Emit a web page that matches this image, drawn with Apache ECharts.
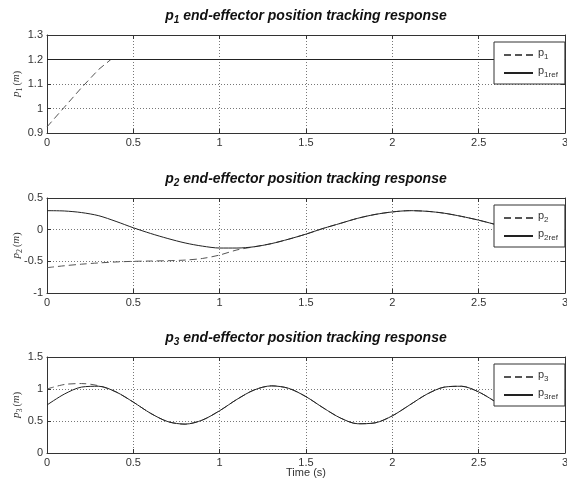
<!DOCTYPE html>
<html>
<head>
<meta charset="utf-8">
<script src="https://cdn.jsdelivr.net/npm/echarts@6/dist/echarts.min.js"></script>
<style>
  html, body { margin: 0; padding: 0; background: #fff; }
  #chart { width: 567px; height: 489px; }
</style>
</head>
<body>
<div id="chart"></div>
<script>
// time samples (s)
const t = [0, 0.1, 0.2, 0.3, 0.4, 0.5, 0.6, 0.7, 0.8, 0.9, 1.0, 1.1, 1.2, 1.3,
  1.4, 1.5, 1.6, 1.7, 1.8, 1.9, 2.0, 2.1, 2.2, 2.3, 2.4, 2.5, 2.6]

// p1
const p1T = [0, 0.1, 0.2, 0.3, 0.37, 2.6]
const p1 = [0.925, 1.005, 1.085, 1.16, 1.2, 1.2]
const p1refT = [0, 2.6]
const p1ref = [1.2, 1.2]

// p2
const p2ref = [0.30, 0.295, 0.27, 0.22, 0.13, 0.03, -0.06, -0.14, -0.21, -0.26, -0.29,
  -0.29, -0.27, -0.22, -0.15, -0.07, 0.02, 0.10, 0.18, 0.24, 0.28, 0.30, 0.29,
  0.26, 0.21, 0.15, 0.08]
const p2 = [-0.60, -0.57, -0.545, -0.525, -0.51, -0.50, -0.495, -0.49, -0.48, -0.455,
  -0.40, -0.32, -0.27, -0.22, -0.15, -0.07, 0.02, 0.10, 0.18, 0.24, 0.28, 0.30,
  0.29, 0.26, 0.21, 0.15, 0.08]

// p3
const p3ref = [0.75, 0.92, 1.03, 1.043, 0.954, 0.795, 0.62, 0.49, 0.451, 0.515, 0.661,
  0.838, 0.985, 1.049, 1.01, 0.88, 0.705, 0.546, 0.457, 0.471, 0.581, 0.75, 0.919,
  1.029, 1.043, 0.954, 0.795]
const p3 = [1.0, 1.07, 1.085, 1.05, 0.954, 0.795, 0.62, 0.49, 0.451, 0.515, 0.661,
  0.838, 0.985, 1.049, 1.01, 0.88, 0.705, 0.546, 0.457, 0.471, 0.581, 0.75, 0.919,
  1.029, 1.043, 0.954, 0.795]

const xTicks = { min: 0, max: 3, interval: 0.5 }
const yRanges = [
  { min: 0.9, max: 1.3, interval: 0.1 },
  { min: -1, max: 0.5, interval: 0.5 },
  { min: 0, max: 1.5, interval: 0.5 },
]

const pair = (xs, ys) => xs.map((x, i) => [x, ys[i]])

const sans = 'Liberation Sans, Arial, sans-serif'
const serif = 'Liberation Serif, DejaVu Serif, serif'
const ink = '#333'
const dashCol = '#555'
const solidCol = '#222'

const grids = [
  { left: 47, right: 2, top: 35, height: 98, outerBoundsMode: 'none' },
  { left: 47, right: 2, top: 198, height: 95, outerBoundsMode: 'none' },
  { left: 47, right: 2, top: 357, height: 96, outerBoundsMode: 'none' },
]

const xAxis = []
const yAxis = []
grids.forEach((g, i) => {
  xAxis.push({
    type: 'value', gridIndex: i, ...xTicks,
    name: i === 2 ? 'Time (s)' : '', nameLocation: 'middle', nameGap: 14,
    nameMoveOverlap: false,
    nameTextStyle: { fontFamily: sans, fontSize: 11, color: ink },
    axisLine: { onZero: false, lineStyle: { color: ink } },
    axisTick: { inside: true, length: 4, lineStyle: { color: ink } },
    axisLabel: { margin: 4, fontFamily: sans, fontSize: 11, color: ink },
    splitLine: { show: true, lineStyle: { color: '#777', type: [1, 2] } },
  })
  xAxis.push({
    type: 'value', gridIndex: i, position: 'top', ...xTicks,
    axisLine: { onZero: false, lineStyle: { color: ink } },
    axisTick: { inside: true, length: 4, lineStyle: { color: ink } },
    axisLabel: { show: false },
    splitLine: { show: false },
  })
  const n = i + 1
  yAxis.push({
    type: 'value', gridIndex: i, ...yRanges[i],
    name: '{i|p}{s|' + n + '}{n|(}{i|m}{n|)}',
    nameLocation: 'middle', nameGap: 23, nameMoveOverlap: false,
    nameTextStyle: {
      rich: {
        i: { fontFamily: serif, fontStyle: 'italic', fontSize: 11, color: ink, lineHeight: 12, padding: [0, 0, 2, 0], verticalAlign: 'bottom' },
        s: { fontFamily: serif, fontSize: 8, color: ink, lineHeight: 9, padding: [0, 2, 0, 0], verticalAlign: 'bottom' },
        n: { fontFamily: serif, fontSize: 10, color: ink, lineHeight: 12, padding: [0, 0, 2, 0], verticalAlign: 'bottom' },
      },
    },
    axisLine: { show: true, onZero: false, lineStyle: { color: ink } },
    axisTick: { show: true, inside: true, length: 4, lineStyle: { color: ink } },
    axisLabel: { margin: 4, fontFamily: sans, fontSize: 11, color: ink },
    splitLine: { show: true, lineStyle: { color: '#777', type: [1, 2] } },
  })
  yAxis.push({
    type: 'value', gridIndex: i, position: 'right', ...yRanges[i],
    axisLine: { show: true, onZero: false, lineStyle: { color: ink } },
    axisTick: { show: true, inside: true, length: 4, lineStyle: { color: ink } },
    axisLabel: { show: false },
    splitLine: { show: false },
  })
})

const line = (name, data, i, dashed) => ({
  name, type: 'line', data,
  xAxisIndex: 2 * i, yAxisIndex: 2 * i,
  symbol: 'none', showSymbol: false,
  smooth: i === 0 ? false : 0.3,
  lineStyle: { width: 1, color: dashed ? dashCol : solidCol, type: dashed ? [7, 4] : 'solid' },
  itemStyle: { color: dashed ? dashCol : solidCol },
  animation: false,
})

const series = [
  line('p1', pair(p1T, p1), 0, true),
  line('p1ref', pair(p1refT, p1ref), 0, false),
  line('p2', pair(t, p2), 1, true),
  line('p2ref', pair(t, p2ref), 1, false),
  line('p3', pair(t, p3), 2, true),
  line('p3ref', pair(t, p3ref), 2, false),
]

const legendRich = {
  a: { fontFamily: sans, fontSize: 11, color: ink, lineHeight: 12, padding: [0, 0, 3, 0], verticalAlign: 'bottom' },
  b: { fontFamily: sans, fontSize: 8, color: ink, lineHeight: 9, verticalAlign: 'bottom' },
}
const legend = grids.map((g, i) => ({
  data: ['p' + (i + 1), 'p' + (i + 1) + 'ref'],
  orient: 'vertical', left: 494, top: g.top + 7,
  itemWidth: 29, itemHeight: 14, itemGap: 4,
  padding: [5, 7, 5, 9],
  backgroundColor: '#fff', borderColor: ink, borderWidth: 1, borderRadius: 0,
  selectedMode: false,
  itemStyle: { opacity: 0 },
  formatter: name => '{a|p}{b|' + name.slice(1) + '}',
  textStyle: { rich: legendRich },
}))

const titleRich = {
  i: { fontFamily: sans, fontSize: 14, fontWeight: 'bold', fontStyle: 'italic', fill: '#111', lineHeight: 16, padding: [0, 0, 2, 0], verticalAlign: 'bottom' },
  s: { fontFamily: sans, fontSize: 10, fontWeight: 'bold', fontStyle: 'italic', fill: '#111', lineHeight: 11, verticalAlign: 'bottom' },
}
const titleY = [17, 180, 339]
const graphic = titleY.map((y, i) => ({
  type: 'text', x: 306, y,
  style: {
    text: '{i|p}{s|' + (i + 1) + '}{i| end-effector position tracking response}',
    align: 'center', verticalAlign: 'middle', rich: titleRich,
  },
}))

const chart = echarts.init(document.getElementById('chart'))
chart.setOption({
  backgroundColor: '#fff',
  animation: false,
  grid: grids,
  xAxis, yAxis, series, legend, graphic,
})
</script>
</body>
</html>
